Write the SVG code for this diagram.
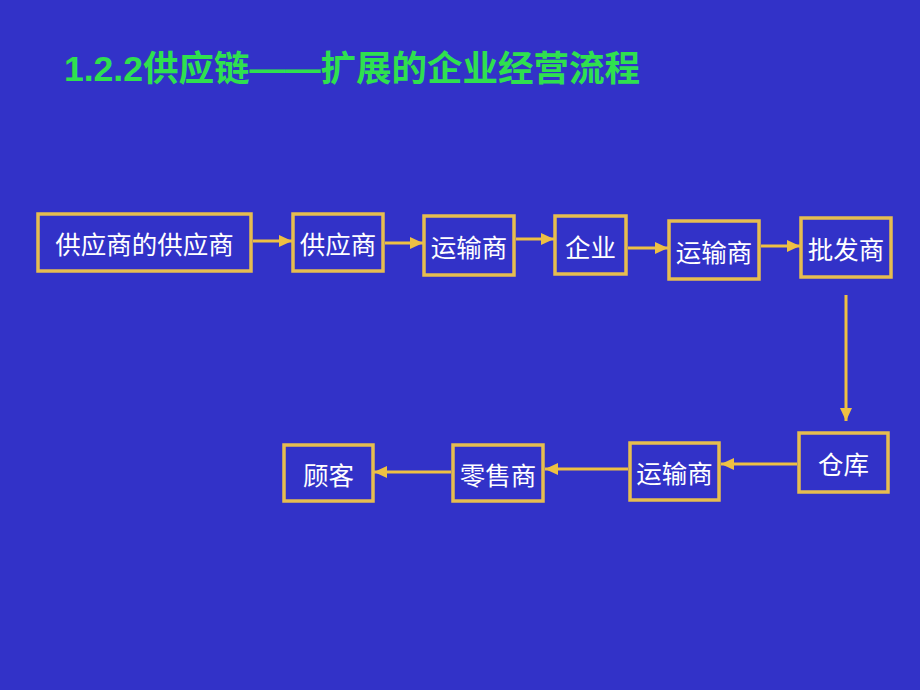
<svg xmlns="http://www.w3.org/2000/svg" width="920" height="690" viewBox="0 0 920 690">
  <style>
    .box { fill: none; stroke: #e6bd4f; stroke-width: 3.5; }
    .lbl { fill: #ffffff; font-family: "Noto Sans CJK SC", "Liberation Sans", sans-serif; font-size: 25.5px; text-anchor: middle; dominant-baseline: central; }
    .title { fill: #2fe04f; font-family: "Liberation Sans", "Noto Sans CJK SC", sans-serif; font-size: 35.5px; font-weight: bold; }
    .conn { stroke: #eec043; stroke-width: 3; fill: none; }
  </style>
  <defs>
    <marker id="ah" markerUnits="userSpaceOnUse" markerWidth="14" markerHeight="14" viewBox="0 0 14 14" refX="13" refY="7" orient="auto">
      <path d="M0,1 L13,7 L0,13 Z" fill="#eec043"/>
    </marker>
  </defs>
  <rect x="0" y="0" width="920" height="690" fill="#3232c8"/>
  <text class="title" x="64" y="81">1.2.2供应链——扩展的企业经营流程</text>

  <g id="connectors">
    <path class="conn" marker-end="url(#ah)" d="M253,241 L292,241"/>
    <path class="conn" marker-end="url(#ah)" d="M385,243 L423,243"/>
    <path class="conn" marker-end="url(#ah)" d="M516,239 L554,239"/>
    <path class="conn" marker-end="url(#ah)" d="M628,248 L668,248"/>
    <path class="conn" marker-end="url(#ah)" d="M761,246 L800,246"/>
    <path class="conn" marker-end="url(#ah)" d="M846,295 L846,421"/>
    <path class="conn" marker-end="url(#ah)" d="M797,464 L721,464"/>
    <path class="conn" marker-end="url(#ah)" d="M628,469 L545,469"/>
    <path class="conn" marker-end="url(#ah)" d="M451,472 L374,472"/>
  </g>

  <g id="n1"><rect class="box" x="38" y="214" width="213" height="57"/><text class="lbl" x="144.5" y="242.5">供应商的供应商</text></g>
  <g id="n2"><rect class="box" x="293" y="214" width="90" height="57"/><text class="lbl" x="338" y="242.5">供应商</text></g>
  <g id="n3"><rect class="box" x="424" y="216" width="90" height="59"/><text class="lbl" x="469" y="245.5">运输商</text></g>
  <g id="n4"><rect class="box" x="555" y="216" width="71" height="58"/><text class="lbl" x="590.5" y="245">企业</text></g>
  <g id="n5"><rect class="box" x="669" y="221" width="90" height="58"/><text class="lbl" x="714" y="250">运输商</text></g>
  <g id="n6"><rect class="box" x="801" y="218" width="90" height="59"/><text class="lbl" x="846" y="247.5">批发商</text></g>
  <g id="n7"><rect class="box" x="799" y="433" width="89" height="59"/><text class="lbl" x="843.5" y="462.5">仓库</text></g>
  <g id="n8"><rect class="box" x="630" y="443" width="89" height="57"/><text class="lbl" x="674.5" y="471.5">运输商</text></g>
  <g id="n9"><rect class="box" x="453" y="445" width="90" height="56"/><text class="lbl" x="498" y="473">零售商</text></g>
  <g id="n10"><rect class="box" x="284" y="445" width="89" height="56"/><text class="lbl" x="328.5" y="473">顾客</text></g>
</svg>
